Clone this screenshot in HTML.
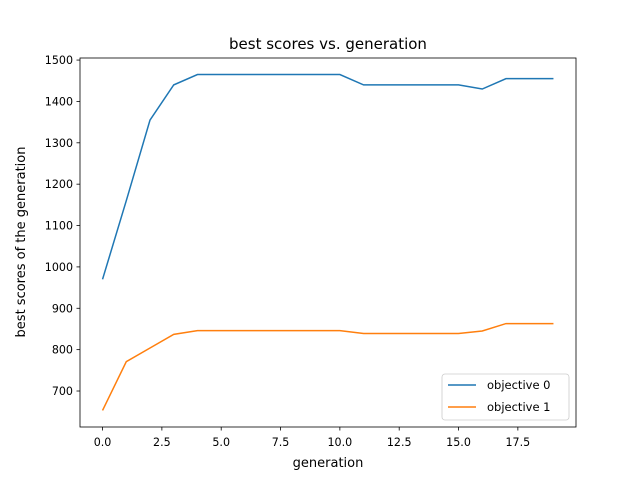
<!DOCTYPE html>
<html><head><meta charset="utf-8"><style>
body{margin:0;background:#fff;font-family:"DejaVu Sans","Liberation Sans",sans-serif;}
svg text{font-family:"DejaVu Sans","Liberation Sans",sans-serif;fill:#000;}
</style></head><body>
<svg id="chart" width="640" height="480" xmlns="http://www.w3.org/2000/svg">
<rect width="640" height="480" fill="#fff"/>
<text x="328" y="49" font-size="15" text-anchor="middle">best scores vs. generation</text>
<g id="ticks"></g>
<g id="lines"></g>
<rect x="80" y="58" width="496" height="369" fill="none" stroke="#000" stroke-width="0.8"/>
<text x="328" y="467" font-size="13" text-anchor="middle">generation</text>
<text transform="translate(25,242) rotate(-90)" font-size="13" text-anchor="middle">best scores of the generation</text>
<g>
<rect x="442" y="374" width="127" height="46" rx="3" fill="#fff" fill-opacity="0.8" stroke="#ccc" stroke-width="0.8"/>
<line x1="448" y1="385" x2="476" y2="385" stroke="#1f77b4" stroke-width="1.5"/>
<text x="487" y="389" font-size="11.5">objective 0</text>
<line x1="448" y1="407" x2="476" y2="407" stroke="#ff7f0e" stroke-width="1.5"/>
<text x="487" y="411" font-size="11.5">objective 1</text>
</g>
</svg>
<script>
const generations=[0,1,2,3,4,5,6,7,8,9,10,11,12,13,14,15,16,17,18,19];
const objective0=[970,1160,1355,1440,1465,1465,1465,1465,1465,1465,1465,1440,1440,1440,1440,1440,1430,1455,1455,1455];
const objective1=[653,771,804,837,846,846,846,846,846,846,846,839,839,839,839,839,845,863,863,863];
const xTicks=[0,2.5,5,7.5,10,12.5,15,17.5];
const xTickLabels=["0.0","2.5","5.0","7.5","10.0","12.5","15.0","17.5"];
const yTicks=[700,800,900,1000,1100,1200,1300,1400,1500];
const NS="http://www.w3.org/2000/svg";
const xmin=-0.95,xmax=19.95,ymin=613,ymax=1505;
function xs(v){return 80+(v-xmin)/(xmax-xmin)*496;}
function ys(v){return 427-(v-ymin)/(ymax-ymin)*369;}
const tg=document.getElementById('ticks');
xTicks.forEach((t,i)=>{
 const l=document.createElementNS(NS,'line');
 l.setAttribute('x1',xs(t));l.setAttribute('x2',xs(t));l.setAttribute('y1',427);l.setAttribute('y2',430.5);l.setAttribute('stroke','#000');l.setAttribute('stroke-width','0.8');
 
 
 tg.appendChild(l);
 const tx=document.createElementNS(NS,'text');
 tx.setAttribute('x',xs(t));tx.setAttribute('y',446);tx.setAttribute('font-size','11.1');tx.setAttribute('text-anchor','middle');
 tx.textContent=xTickLabels[i];
 
 
 tg.appendChild(tx);
});
yTicks.forEach(t=>{
 const l=document.createElementNS(NS,'line');
 l.setAttribute('x1',76.5);l.setAttribute('x2',80);l.setAttribute('y1',ys(t));l.setAttribute('y2',ys(t));l.setAttribute('stroke','#000');l.setAttribute('stroke-width','0.8');
 
 
 tg.appendChild(l);
 const tx=document.createElementNS(NS,'text');
 tx.setAttribute('x',73);tx.setAttribute('y',ys(t)+4);tx.setAttribute('font-size','11.1');tx.setAttribute('text-anchor','end');
 tx.textContent=t;
 
 
 tg.appendChild(tx);
});
const lg=document.getElementById('lines');
[[objective0,'#1f77b4','series-objective-0'],[objective1,'#ff7f0e','series-objective-1']].forEach(s=>{
 const p=document.createElementNS(NS,'polyline');
 p.setAttribute('points',generations.map((g,i)=>xs(g)+','+ys(s[0][i])).join(' '));
 p.setAttribute('fill','none');p.setAttribute('stroke',s[1]);p.setAttribute('stroke-width','1.5');
 
 
 lg.appendChild(p);
});
</script>
</body></html>
